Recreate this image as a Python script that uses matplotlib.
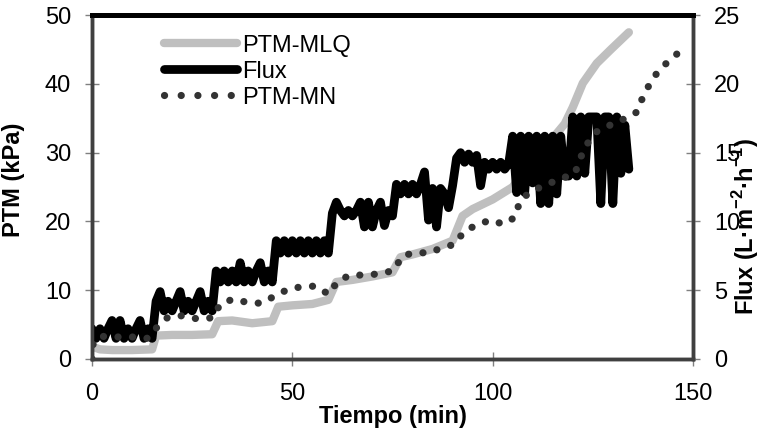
import matplotlib
matplotlib.use("Agg")
import matplotlib.pyplot as plt
from matplotlib.lines import Line2D

plt.rcParams['font.family'] = ['Liberation Sans', 'DejaVu Sans']
plt.rcParams['mathtext.fontset'] = 'custom'
plt.rcParams['mathtext.rm'] = 'Liberation Sans:bold'
plt.rcParams['mathtext.bf'] = 'Liberation Sans:bold'

# PTM-MLQ (kPa)
t_mlq = [0, 2, 5, 10, 15, 16, 20, 25, 30, 31.5, 35, 40, 45, 46.5, 50, 55, 59,
         61, 65, 70, 75, 77, 80, 85, 90, 92.5, 95, 100, 105, 110, 114, 118,
         120, 122.5, 126, 129.5, 134]
ptm_mlq = [1.8, 1.4, 1.3, 1.3, 1.4, 3.4, 3.5, 3.5, 3.6, 5.5, 5.6, 5.2, 5.5,
           7.6, 7.8, 8.0, 8.6, 11.2, 11.5, 12.0, 12.6, 14.8, 15.2, 16.0, 17.2,
           20.8, 21.8, 23.2, 25.0, 29.0, 31.4, 34.2, 36.6, 40.1, 43.0, 45.0,
           47.5]

# PTM-MN (kPa)
t_mn = [0, 0.3, 2, 6.2, 10, 14, 16.2, 19, 22.7, 26.5, 30.2, 32, 35.2, 39,
        42.4, 45.7, 49.2, 52.4, 55.8, 59.1, 61.3, 64.4, 68.1, 72.1, 75.4,
        77.4, 80.9, 83.9, 87.1, 90.6, 92.8, 96.3, 99.6, 102.6, 105.6, 106.8,
        109.6, 113.3, 116.8, 120.5, 121.8, 123.5, 125.8, 129.3, 132.8, 136,
        137.5, 139.3, 141.5, 144.5, 147.5]
ptm_mn = [0.0, 2.3, 3.3, 3.2, 3.2, 3.0, 4.6, 6.1, 6.3, 5.8, 6.0, 8.0, 8.7,
          8.2, 8.1, 9.2, 10.2, 10.5, 10.6, 9.4, 11.3, 12.2, 12.2, 12.4, 12.9,
          15.0, 15.5, 15.4, 16.1, 16.7, 18.5, 19.6, 20.2, 19.6, 20.6, 23.0,
          24.4, 25.3, 26.2, 26.9, 29.1, 31.2, 33.0, 34.0, 34.9, 35.9, 38.1,
          40.1, 42.0, 43.6, 45.1]

# Flux (L/m2/h), one reading per minute
t_flux = list(range(0, 135))
flux = [2.2, 1.5, 2.2, 1.5, 2.2, 2.8, 1.5, 2.8, 1.5, 2.2, 1.5, 2.2, 2.8, 1.5, 2.2, 1.5,
        4.2, 4.9, 3.5, 4.2, 3.5, 4.2, 4.9, 3.5, 4.2, 3.5, 4.2, 4.9, 3.5, 4.2, 3.5,
        6.4, 5.6, 6.4, 5.6, 6.4, 5.6, 7.0, 5.6, 6.4, 5.6, 6.4, 7.0, 5.6, 6.4, 5.6,
        8.6, 7.7, 8.6, 7.7, 8.6, 7.7, 8.6, 7.7, 8.6, 7.7, 8.6, 7.7, 8.6, 7.7,
        10.6, 11.4, 10.8, 10.4, 10.8, 10.4, 10.8, 11.4, 9.6, 11.4, 9.6, 10.8, 11.4, 9.7, 10.8, 10.4,
        12.7, 12.0, 12.7, 12.0, 12.7, 12.0, 12.7, 13.6, 10.1, 12.4, 9.6, 12.4, 12.0, 11.0, 12.6,
        14.6, 15.0, 14.3, 14.9, 14.3, 14.8, 12.6, 14.3, 13.8, 14.3, 13.8, 14.3, 13.8, 14.2,
        16.2, 12.1, 16.2, 12.1, 16.2, 12.8, 16.2, 11.3, 16.2, 11.3, 16.2, 12.0, 16.2, 13.3, 13.3,
        17.6, 13.3, 17.6, 13.5, 17.6, 17.6, 17.6, 11.3, 17.6, 17.6, 11.3, 17.6, 13.5, 17.0, 13.8]

fig = plt.figure(figsize=(7.62, 4.32), dpi=100)
ax1 = fig.add_axes([0.1207, 0.169, 0.7887, 0.796])
ax2 = ax1.twinx()

gris = '#bfbfbf'
oscuro = '#333333'

ax1.plot(t_mlq, ptm_mlq, color=gris, lw=6, solid_capstyle='round',
         solid_joinstyle='round')
ax2.plot(t_flux, flux, color='black', lw=6.3, solid_capstyle='round',
         solid_joinstyle='round')
# dotted PTM-MN drawn on top of the flux, in PTM units
ax2.plot(t_mn, ptm_mn, color=oscuro, lw=5.2, linestyle=(0, (0.01, 2.0)),
         dash_capstyle='round', transform=ax1.transData)

ax1.set_xlim(0, 150)
ax1.set_ylim(0, 50)
ax2.set_ylim(0, 25)
ax1.set_xticks([0, 50, 100, 150])
ax1.set_yticks([0, 10, 20, 30, 40, 50])
ax2.set_yticks([0, 5, 10, 15, 20, 25])

for ax in (ax1, ax2):
    ax.tick_params(direction='inout', length=10, width=1, color='#808080',
                   labelsize=17, pad=10)
    for s in ('left', 'right', 'bottom'):
        ax.spines[s].set_color('#404040')
        ax.spines[s].set_linewidth(2.5)
    ax.spines['top'].set_color('black')
    ax.spines['top'].set_linewidth(3.5)
ax1.tick_params(axis='x', pad=12)

ax1.set_xlabel('Tiempo (min)', fontsize=17, fontweight='bold', labelpad=0)
ax1.set_ylabel('PTM (kPa)', fontsize=17, fontweight='bold')
ax1.yaxis.set_label_coords(-0.111, 0.52)
ax2.set_ylabel(r'Flux (L·m$^{-2}$·h$^{-1}$)', fontsize=17, fontweight='bold',
               va='center', ha='center', rotation=90)
ax2.yaxis.set_label_coords(1.088, 0.384)

handles = [Line2D([], [], color=gris, lw=6, solid_capstyle='round'),
           Line2D([], [], color='black', lw=6.3, solid_capstyle='round'),
           Line2D([], [], color=oscuro, lw=5.2, linestyle=(0, (0.01, 2.3)),
                  dash_capstyle='round')]
ax2.legend(handles, ['PTM-MLQ', 'Flux', 'PTM-MN'], loc='upper left',
           bbox_to_anchor=(0.12, 0.943), frameon=False, fontsize=17,
           handlelength=3.1, handletextpad=0.2, labelspacing=0.17,
           borderpad=0, borderaxespad=0)

fig.savefig('out.png', dpi=100)
